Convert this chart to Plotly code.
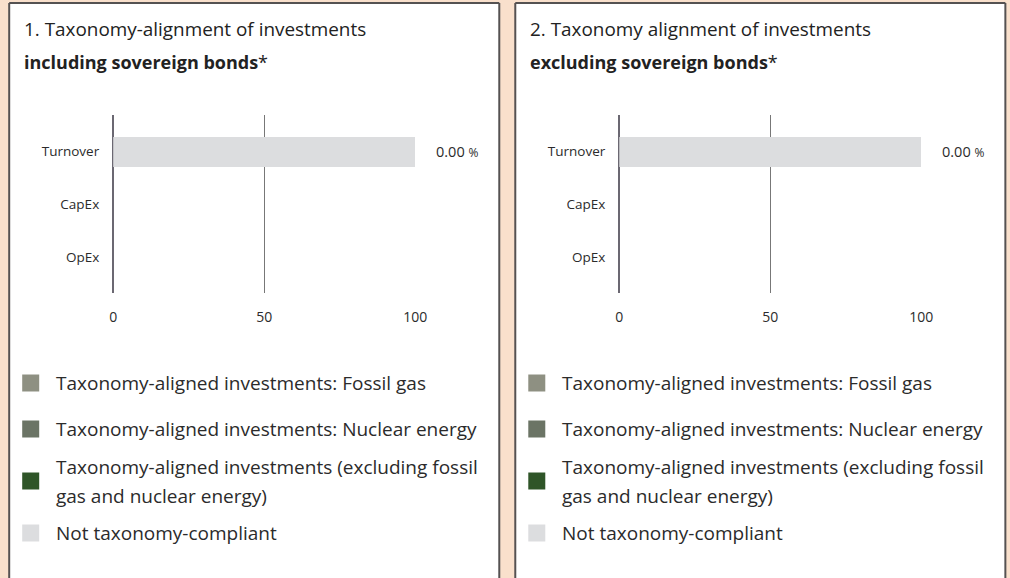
import plotly.graph_objects as go

W, H = 1010, 578

categories = ["Turnover", "CapEx", "OpEx"]
series_names = [
    "Taxonomy-aligned investments: Fossil gas",
    "Taxonomy-aligned investments: Nuclear energy",
    "Taxonomy-aligned investments (excluding fossil<br>gas and nuclear energy)",
    "Not taxonomy-compliant",
]
series_colors = ["#8e9082", "#6b7465", "#2f5528", "#dcdddf"]

# panel 1: including sovereign bonds
incl_fossil = [0, 0, 0]
incl_nuclear = [0, 0, 0]
incl_aligned = [0, 0, 0]
incl_not = [100, 0, 0]
incl_label = ["0.00", None, None]

# panel 2: excluding sovereign bonds
excl_fossil = [0, 0, 0]
excl_nuclear = [0, 0, 0]
excl_aligned = [0, 0, 0]
excl_not = [100, 0, 0]
excl_label = ["0.00", None, None]

x_ticks = [0, 50, 100]

panel_titles = [
    ("1. Taxonomy-alignment of investments", "including sovereign bonds"),
    ("2. Taxonomy alignment of investments", "excluding sovereign bonds"),
]

FONT = "Open Sans"
TXT = "#2b2b2b"

# horizontal correction for the way the page is captured
SX, OX = 0.984, 3.8


def px(x):
    return ((x - OX) / SX) / W


def py(y):
    return 1 - y / H


fig = go.Figure()

panels = [
    (incl_fossil, incl_nuclear, incl_aligned, incl_not, incl_label),
    (excl_fossil, excl_nuclear, excl_aligned, excl_not, excl_label),
]
offsets = [0, 506]

shapes = []
annotations = []
BORDER = "#555252"

for i, (data, off) in enumerate(zip(panels, offsets)):
    xa = "x" if i == 0 else "x2"
    ya = "y" if i == 0 else "y2"
    for vals, name, col in zip(data[:4], series_names, series_colors):
        fig.add_trace(go.Bar(
            y=categories, x=vals, orientation="h", name=name,
            marker=dict(color=col, line=dict(width=0)),
            width=0.57, xaxis=xa, yaxis=ya, showlegend=False,
            hoverinfo="skip",
        ))
    # value labels
    for cat, lab in zip(categories, data[4]):
        if lab is not None:
            annotations.append(dict(
                x=px(457 + off), xref="paper", y=cat, yref=ya,
                text=f"{lab} <span style='font-size:12px'>%</span>",
                showarrow=False, xanchor="center", yanchor="middle",
                font=dict(family=FONT, size=14.5, color=TXT),
            ))
    # panel frame (white panel, open at the bottom)
    x0, x1, y0, y1 = px(9 + off), px(499 + off), 0, py(3)
    shapes.append(dict(type="rect", xref="paper", yref="paper", layer="below",
                       x0=x0, x1=x1, y0=y0, y1=y1, fillcolor="white",
                       line=dict(width=0)))
    for (ax, ay, bx, by) in [(x0, y0, x0, y1), (x0, y1, x1, y1), (x1, y1, x1, y0)]:
        shapes.append(dict(type="line", xref="paper", yref="paper", layer="below",
                           x0=ax, y0=ay, x1=bx, y1=by,
                           line=dict(color=BORDER, width=2)))
    # titles
    t1, t2 = panel_titles[i]
    annotations.append(dict(
        x=px(22 + off), y=py(29), xref="paper", yref="paper",
        text=t1, showarrow=False, xanchor="left", yanchor="middle",
        font=dict(family=FONT, size=18.9, color="#222222"),
    ))
    annotations.append(dict(
        x=px(22 + off), y=py(62), xref="paper", yref="paper",
        text=f"<b>{t2}</b>*", showarrow=False, xanchor="left", yanchor="middle",
        font=dict(family=FONT, size=18, color="#222222"),
    ))
    # legend
    leg_y = [383, 429, 481, 533]
    for name, col, yy in zip(series_names, series_colors, leg_y):
        shapes.append(dict(
            type="rect", xref="paper", yref="paper",
            x0=px(22 + off), x1=px(39 + off), y0=py(yy + 8.5), y1=py(yy - 8.5),
            fillcolor=col, line=dict(width=0),
        ))
        lines = name.split("<br>")
        n = len(lines)
        for k, line in enumerate(lines):
            ly = yy + (k - (n - 1) / 2) * 29
            annotations.append(dict(
                x=px(54 + off), y=py(ly), xref="paper", yref="paper",
                text=line, showarrow=False, xanchor="left", yanchor="middle",
                align="left", font=dict(family=FONT, size=19, color=TXT),
            ))

xaxis_common = dict(
    range=[0, 100], tickvals=x_ticks, showgrid=True, gridcolor="#777777",
    gridwidth=1, zeroline=True, zerolinecolor="#6b6872", zerolinewidth=2,
    showline=False, ticks="", ticklabelstandoff=14,
    tickfont=dict(family=FONT, size=14, color=TXT), fixedrange=True,
)
yaxis_common = dict(
    type="category", categoryarray=categories, range=[2.69, -0.7],
    showgrid=False, zeroline=False, showline=False, ticks="",
    ticklabelstandoff=13, tickfont=dict(family=FONT, size=13.5, color=TXT),
    domain=[py(293), py(115)], fixedrange=True,
)

fig.update_layout(
    width=W, height=H, autosize=False, margin=dict(l=0, r=0, t=0, b=0),
    paper_bgcolor="#f9e0cc", plot_bgcolor="rgba(0,0,0,0)",
    barmode="stack", showlegend=False,
    xaxis=dict(domain=[px(113), px(415)], anchor="y", **xaxis_common),
    yaxis=dict(anchor="x", **yaxis_common),
    xaxis2=dict(domain=[px(113 + 506), px(415 + 506)], anchor="y2", **xaxis_common),
    yaxis2=dict(anchor="x2", **yaxis_common),
    shapes=shapes, annotations=annotations,
    font=dict(family=FONT, color=TXT),
)

fig.write_html(
    "out.html",
    config={"displayModeBar": False, "responsive": False},
    post_script=(
        "document.documentElement.style.overflow='hidden';"
        "document.body.style.margin='0';"
        "document.body.style.overflow='hidden';"
        "document.body.style.background='#f9e0cc';"
    ),
)
